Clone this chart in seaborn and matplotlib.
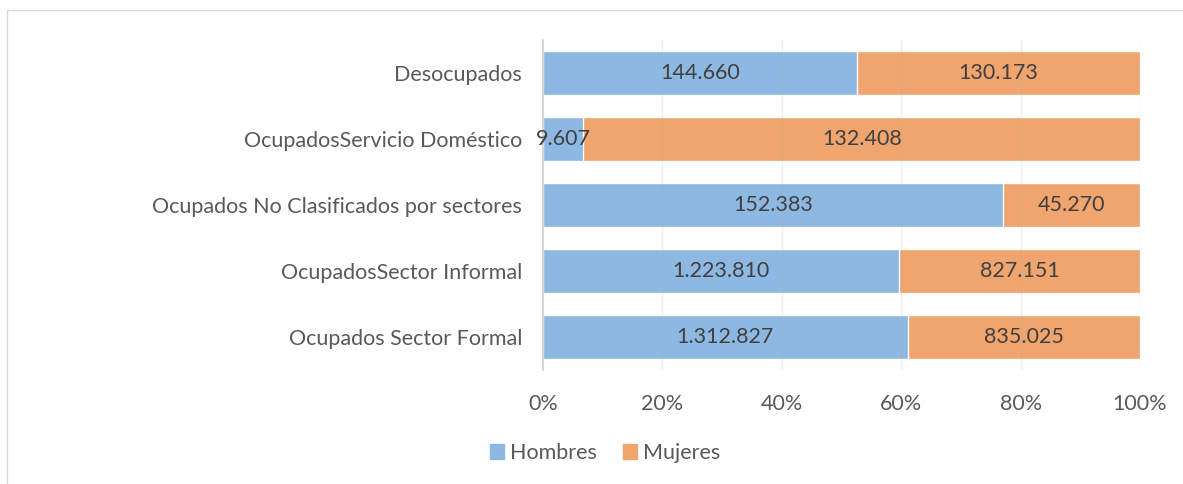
import matplotlib
matplotlib.use("Agg")
import matplotlib.pyplot as plt
import seaborn as sns
import pandas as pd
from matplotlib.patches import Rectangle, Patch

categorias = ["Desocupados", "OcupadosServicio Doméstico",
              "Ocupados No Clasificados por sectores",
              "OcupadosSector Informal", "Ocupados Sector Formal"]
hombres = [144660, 9607, 152383, 1223810, 1312827]
mujeres = [130173, 132408, 45270, 827151, 835025]
ticks_pct = [0, 20, 40, 60, 80, 100]

def fmt(v):
    return f"{v:,}".replace(",", ".")

sns.set_theme(style="white")
plt.rcParams["font.family"] = ["Lato", "DejaVu Sans"]

tot = [h + m for h, m in zip(hombres, mujeres)]
df = pd.DataFrame({
    "cat": categorias,
    "h_pct": [h / t * 100 for h, t in zip(hombres, tot)],
    "total": [100.0] * len(categorias),
})

C_H = "#8cb8e1"
C_M = "#f0a46e"
TXT = "#595959"
FS = 15.5

fig = plt.figure(figsize=(11.83, 4.84), dpi=100)
ax = fig.add_axes([543 / 1183, 1 - 370 / 484, (1140 - 543) / 1183, 330 / 484])

sns.barplot(data=df, y="cat", x="total", color=C_M, orient="h", width=0.67,
            ax=ax, saturation=1, zorder=2)
sns.barplot(data=df, y="cat", x="h_pct", color=C_H, orient="h", width=0.67,
            ax=ax, saturation=1, zorder=2)

ax.set_xlim(0, 100)
ax.set_ylim(4.5, -0.5)
ax.set_xticks(ticks_pct)
ax.set_xticklabels([f"{t}%" for t in ticks_pct], color=TXT, fontsize=FS)
ax.tick_params(axis="x", length=0, pad=17)
ax.tick_params(axis="y", length=0, pad=15, labelsize=FS, labelcolor=TXT)
ax.set_xlabel("")
ax.set_ylabel("")
for s in ["top", "right", "bottom"]:
    ax.spines[s].set_visible(False)
ax.spines["left"].set_color("#d0d0d0")
ax.spines["left"].set_linewidth(1.2)
for t in ticks_pct[1:]:
    ax.axvline(t, color="#b0b0b0", lw=1, alpha=0.22, zorder=3)

for i, (h, m) in enumerate(zip(hombres, mujeres)):
    hp = h / tot[i] * 100
    ax.text(hp / 2, i, fmt(h), ha="center", va="center", fontsize=FS,
            color="#404040", zorder=4)
    ax.text(hp + (100 - hp) / 2, i, fmt(m), ha="center", va="center",
            fontsize=FS, color="#404040", zorder=4)

handles = [Patch(color=C_H, label="Hombres"), Patch(color=C_M, label="Mujeres")]
fig.legend(handles=handles, loc="center", bbox_to_anchor=(605 / 1183, 1 - 453 / 484),
           ncol=2, frameon=False, fontsize=FS, handlelength=0.65, handleheight=0.65,
           columnspacing=1.2, handletextpad=0.3, labelcolor=TXT)

fig.patches.append(Rectangle((7 / 1183, -0.1), 1.2, 1.0 + 0.1 - 10 / 484,
                             transform=fig.transFigure, fill=False,
                             edgecolor="#d9d9d9", lw=1))
fig.savefig("out.png", dpi=100)
